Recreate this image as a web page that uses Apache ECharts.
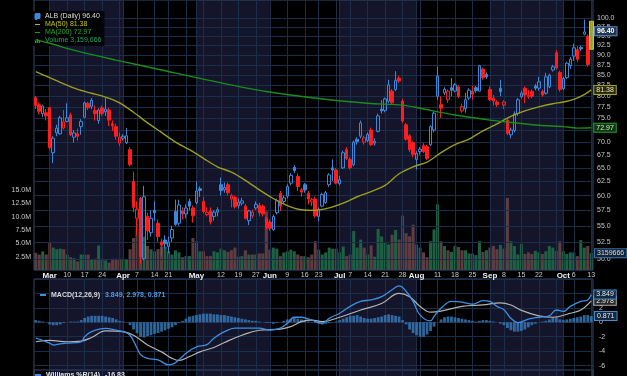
<!DOCTYPE html>
<html>
<head>
<meta charset="utf-8">
<script src="https://cdn.jsdelivr.net/npm/echarts@6/dist/echarts.min.js"></script>
<style>
  html, body { margin: 0; padding: 0; background: #000; }
  #chart { width: 627px; height: 376px; }
</style>
</head>
<body>
<div id="chart"></div>
<script>
// trading days, 2025
const feb = [25, 26, 27, 28];
const mar = [3, 4, 5, 6, 7, 10, 11, 12, 13, 14, 17, 18, 19, 20, 21, 24, 25, 26, 27, 28, 31];
const apr = [1, 2, 3, 4, 7, 8, 9, 10, 11, 14, 15, 16, 17, 21, 22, 23, 24, 25, 28, 29, 30];
const may = [1, 2, 5, 6, 7, 8, 9, 12, 13, 14, 15, 16, 19, 20, 21, 22, 23, 27, 28, 29, 30];
const jun = [2, 3, 4, 5, 6, 9, 10, 11, 12, 13, 16, 17, 18, 20, 23, 24, 25, 26, 27, 30];
const jul = [1, 2, 3, 7, 8, 9, 10, 11, 14, 15, 16, 17, 18, 21, 22, 23, 24, 25, 28, 29, 30, 31];
const aug = [1, 4, 5, 6, 7, 8, 11, 12, 13, 14, 15, 18, 19, 20, 21, 22, 25, 26, 27, 28, 29];
const sep = [2, 3, 4, 5, 8, 9, 10, 11, 12, 15, 16, 17, 18, 19, 22, 23, 24, 25, 26, 29, 30];
const oct = [1, 2, 3, 6, 7, 8, 9, 10, 13];

const monthNames = ['Feb', 'Mar', 'Apr', 'May', 'Jun', 'Jul', 'Aug', 'Sep', 'Oct'];
const hiddenWeekLabels = ['2025-03-31', '2025-04-28', '2025-05-05', '2025-06-30', '2025-08-04', '2025-09-29'];
const shadedMonths = [['2025-03-03', '2025-04-01'], ['2025-05-01', '2025-06-02'],
                      ['2025-07-01', '2025-08-01'], ['2025-09-02', '2025-10-01']];

// [open, close, low, high]
const ohlc = [
  [79.6, 77.8, 77.0, 80.0], [78.0, 76.5, 75.8, 78.5], [76.0, 77.7, 75.3, 78.0], [76.2, 75.5, 74.5, 77.0],
  [77.3, 68.9, 68.5, 77.5], [67.9, 70.8, 65.9, 71.2], [71.9, 72.9, 71.2, 73.6], [71.7, 75.1, 71.5, 75.5],
  [72.9, 74.2, 72.6, 76.8], [74.3, 75.1, 74.1, 78.3], [75.7, 71.5, 71.2, 76.2], [71.0, 71.9, 69.9, 72.5],
  [71.7, 71.2, 70.3, 72.8], [73.2, 74.3, 71.5, 74.8], [75.2, 78.4, 75.0, 78.7], [78.3, 77.3, 76.8, 78.6],
  [77.6, 79.0, 77.0, 79.5], [76.7, 76.0, 74.5, 77.8], [74.5, 76.8, 73.8, 77.2], [77.3, 76.0, 75.5, 77.8],
  [76.4, 77.0, 75.5, 79.5], [76.8, 74.6, 73.3, 77.3], [73.8, 73.4, 72.3, 74.5], [73.2, 71.2, 70.5, 73.8],
  [69.8, 71.0, 69.2, 72.0], [70.8, 71.2, 70.3, 71.6], [69.9, 71.3, 69.6, 72.9], [68.5, 65.6, 65.3, 69.0],
  [62.5, 58.0, 57.2, 64.3], [56.2, 57.7, 53.5, 59.0], [59.5, 50.3, 49.3, 59.8], [50.0, 59.8, 49.8, 61.7],
  [56.5, 54.2, 52.8, 57.1], [53.9, 56.2, 53.3, 57.5], [57.5, 57.1, 55.8, 59.0], [55.4, 53.3, 52.5, 56.0],
  [52.5, 52.0, 50.5, 53.0], [52.8, 52.2, 51.5, 53.5], [51.8, 52.5, 50.8, 53.3], [53.1, 54.4, 52.5, 55.0],
  [57.3, 55.2, 55.0, 59.3], [55.4, 58.4, 55.0, 59.3], [57.4, 56.9, 56.0, 58.0], [56.9, 57.9, 56.2, 58.5],
  [59.0, 58.2, 57.5, 59.5], [57.9, 56.6, 55.5, 58.3], [58.8, 60.8, 58.5, 62.5], [61.2, 60.9, 59.8, 61.6],
  [59.0, 57.3, 57.0, 59.8], [56.8, 57.2, 56.5, 58.0], [57.4, 55.6, 55.2, 58.0], [56.5, 57.2, 55.8, 57.5],
  [57.2, 57.6, 56.5, 58.0], [61.9, 60.9, 60.0, 63.2], [61.0, 61.4, 60.5, 62.3], [61.9, 60.5, 60.0, 62.3],
  [59.4, 60.0, 58.0, 60.3], [59.7, 58.1, 57.8, 60.0], [58.3, 58.9, 57.8, 59.5], [58.7, 59.1, 58.3, 59.6],
  [58.2, 56.2, 56.0, 58.6], [55.8, 57.4, 55.1, 57.6], [56.6, 57.2, 56.2, 57.6], [57.9, 58.5, 57.6, 59.0],
  [58.3, 57.1, 56.5, 58.8], [58.2, 56.9, 56.5, 58.5], [56.2, 54.7, 54.4, 56.4], [55.6, 54.6, 54.2, 56.0],
  [54.4, 56.5, 54.2, 56.8], [57.1, 59.1, 56.8, 59.5], [60.4, 58.2, 57.4, 60.8], [59.0, 59.6, 58.7, 60.0],
  [59.9, 61.6, 59.5, 62.0], [62.2, 63.6, 61.8, 64.0], [65.1, 64.5, 64.0, 65.5], [63.4, 61.6, 60.8, 64.0],
  [61.0, 60.6, 59.8, 61.3], [61.9, 61.0, 60.5, 62.2], [60.4, 59.4, 58.5, 60.8], [58.9, 59.3, 58.2, 59.6],
  [59.4, 56.6, 56.3, 59.8], [56.5, 57.7, 55.7, 58.0], [58.2, 60.2, 58.0, 60.5], [58.8, 60.5, 58.6, 60.8],
  [61.9, 63.7, 61.5, 64.0], [65.0, 64.6, 62.6, 66.6], [64.6, 62.2, 62.0, 65.0], [62.1, 62.8, 61.8, 63.5],
  [65.0, 67.9, 64.8, 68.3], [68.5, 66.8, 66.5, 69.0], [66.6, 65.0, 64.7, 67.0], [65.6, 70.0, 65.3, 70.3],
  [70.6, 70.1, 69.5, 71.0], [71.2, 74.0, 70.8, 74.5], [70.0, 70.9, 69.5, 71.3], [70.3, 71.6, 70.0, 72.0],
  [72.5, 69.5, 69.2, 73.0], [69.8, 70.2, 69.3, 70.8], [72.2, 75.5, 72.0, 76.0], [77.0, 76.6, 76.0, 79.0],
  [76.7, 79.3, 76.3, 79.6], [78.8, 82.6, 78.4, 83.8], [81.1, 78.4, 78.0, 81.6], [81.5, 83.7, 81.1, 85.9],
  [84.2, 83.5, 83.0, 84.8], [78.8, 74.4, 74.0, 79.3], [73.6, 70.6, 70.3, 74.0], [71.3, 68.5, 68.0, 71.6],
  [69.9, 67.6, 67.0, 70.2], [66.6, 67.8, 64.7, 68.2], [68.1, 68.6, 67.5, 69.0], [69.3, 68.1, 67.8, 69.8],
  [69.1, 66.8, 66.5, 69.5], [69.5, 73.2, 69.2, 73.5], [72.5, 76.1, 72.0, 76.5], [79.9, 84.7, 79.1, 87.1],
  [78.0, 77.2, 75.1, 79.9], [80.7, 81.5, 80.2, 82.0], [79.1, 81.1, 78.4, 81.5], [81.9, 81.3, 79.9, 84.2],
  [81.1, 82.6, 80.8, 83.0], [82.1, 79.9, 79.5, 82.5], [76.6, 77.6, 76.2, 78.2], [77.1, 79.1, 76.2, 80.7],
  [79.5, 81.3, 79.0, 81.8], [81.1, 80.4, 79.1, 82.3], [81.9, 81.2, 80.7, 82.3], [81.1, 87.2, 81.0, 87.5],
  [86.4, 84.3, 83.8, 86.8], [85.1, 84.5, 84.0, 85.6], [81.5, 79.1, 78.8, 82.2], [79.5, 78.8, 77.8, 80.2],
  [78.6, 78.0, 77.5, 79.0], [81.8, 81.0, 79.9, 83.8], [77.9, 78.6, 77.0, 79.0], [74.6, 71.8, 71.4, 75.0],
  [71.5, 72.5, 70.8, 73.0], [72.4, 76.0, 72.0, 76.5], [76.0, 79.1, 75.5, 79.5], [79.8, 80.6, 79.4, 81.2],
  [81.8, 80.2, 78.3, 82.2], [79.8, 80.1, 79.3, 81.4], [81.0, 79.9, 79.5, 81.5], [82.3, 81.8, 81.3, 82.8],
  [81.8, 83.3, 81.2, 84.5], [81.0, 80.2, 79.8, 81.5], [80.6, 84.5, 80.3, 85.5], [82.1, 84.9, 81.8, 85.3],
  [86.2, 87.0, 85.8, 87.5], [90.6, 86.7, 86.3, 91.3], [85.6, 81.5, 81.0, 86.0], [81.7, 84.1, 81.3, 84.5],
  [84.3, 87.9, 84.0, 88.3], [87.3, 88.9, 86.5, 89.5], [89.7, 91.9, 88.5, 93.0], [91.4, 88.9, 88.3, 92.3],
  [92.0, 91.6, 91.0, 92.5], [95.6, 96.2, 95.3, 99.7], [95.0, 87.6, 87.0, 95.5], [91.9, 96.4, 91.5, 99.2]
];

// volume, millions of shares
const volumes = [
  3.2, 2.9, 3.5, 2.9, 5.1, 4.2, 3.9, 4.0, 3.9, 2.9, 2.4, 2.2, 1.6, 2.9, 2.9, 2.9, 2.0, 2.1, 4.6, 2.1,
  1.8, 1.4, 2.1, 2.1, 2.1, 2.1, 2.0, 3.9, 6.0, 7.6, 7.0, 6.2, 4.5, 3.9, 3.5, 3.9, 4.4, 4.4, 3.5, 2.9,
  3.7, 3.3, 2.4, 2.6, 2.6, 6.0, 5.4, 3.5, 3.5, 2.6, 2.6, 3.5, 3.3, 4.0, 3.7, 3.4, 3.7, 4.2, 2.5, 2.6,
  3.7, 2.9, 2.9, 2.9, 3.1, 3.1, 11.0, 3.8, 4.2, 4.0, 2.6, 3.3, 3.5, 3.8, 3.5, 2.9, 2.6, 2.6, 2.4, 2.9,
  5.4, 3.8, 2.9, 3.3, 4.2, 4.0, 4.0, 3.3, 4.4, 2.6, 2.9, 7.3, 4.2, 5.7, 4.2, 2.9, 4.6, 2.5, 7.7, 6.3,
  5.1, 4.8, 6.6, 7.5, 5.7, 10.2, 6.9, 6.3, 8.5, 4.8, 4.2, 3.3, 2.4, 5.4, 7.6, 12.3, 5.4, 4.5, 3.7, 3.4,
  4.5, 4.3, 3.7, 3.7, 3.1, 3.1, 2.8, 5.4, 3.4, 3.7, 4.2, 4.5, 3.9, 4.7, 4.0, 13.5, 5.4, 4.5, 2.9, 4.9,
  3.0, 3.3, 3.0, 3.6, 3.3, 3.0, 3.5, 4.5, 4.2, 3.6, 5.4, 3.5, 3.0, 3.3, 3.3, 2.6, 5.6, 4.2, 4.5, 3.159666
];

// moving averages read at [day index, value]
const ma50 = [
  [0, 85.8], [4, 84.3], [8, 82.8], [12, 81.5], [16, 80.6], [20, 79.7], [24, 78.4], [28, 76.3],
  [32, 74.0], [36, 72.0], [40, 70.0], [44, 68.5], [48, 66.8], [52, 65.2], [56, 64.2], [60, 62.7],
  [64, 61.0], [68, 59.5], [72, 58.3], [76, 57.6], [80, 57.5], [84, 57.9], [88, 58.7], [92, 59.8],
  [96, 60.7], [100, 61.8], [104, 63.9], [108, 65.2], [112, 66.1], [116, 67.9], [120, 69.5], [124, 70.6],
  [128, 72.3], [132, 73.8], [136, 75.4], [140, 76.6], [144, 77.5], [148, 78.2], [151, 78.6], [154, 79.2],
  [157, 80.3], [159, 81.38]
];
const ma200 = [
  [0, 94.1], [4, 93.1], [12, 91.0], [23, 88.7], [36, 86.2], [50, 83.6], [66, 81.0], [81, 79.4],
  [95, 78.3], [105, 77.9], [110, 77.2], [120, 75.7], [130, 74.6], [135, 74.2], [144, 73.5], [151, 73.2],
  [155, 72.9], [159, 72.97]
];

// MACD(12,26,9)
const macdLine = [
  [0, -2.2], [2, -2.5], [4, -2.9], [5, -3.15], [7, -3.0], [9, -2.9], [13, -2.7], [14, -2.0],
  [16, -1.3], [20, -0.85], [23, -1.1], [25, -1.3], [27, -1.8], [29, -3.6], [30, -4.5], [32, -5.0],
  [35, -5.2], [38, -5.9], [39, -5.85], [41, -5.2], [43, -4.3], [46, -3.4], [49, -3.1], [51, -2.2],
  [54, -1.3], [57, -0.8], [61, -0.8], [64, -0.8], [67, -1.07], [70, -0.8], [72, -0.15], [74, 0.7],
  [76, 0.7], [79, 0.3], [82, -0.15], [84, 0.55], [87, 1.25], [90, 2.2], [93, 2.9], [96, 3.1],
  [99, 3.55], [102, 4.5], [104, 5.05], [106, 4.3], [108, 2.9], [110, 1.0], [113, 0.2], [114, 0.8],
  [116, 1.95], [119, 2.9], [122, 2.8], [125, 2.5], [128, 3.0], [130, 2.9], [132, 2.2], [134, 1.75],
  [136, 0.55], [138, -0.05], [141, 0.45], [144, 0.7], [147, 0.9], [149, 1.7], [151, 1.5], [153, 2.2],
  [156, 2.9], [158, 3.1], [159, 3.849]
];
const signalLine = [
  [0, -2.7], [4, -2.5], [9, -2.7], [13, -2.6], [16, -2.1], [20, -1.2], [25, -1.3], [28, -1.8],
  [32, -3.15], [36, -4.1], [39, -5.0], [41, -5.3], [44, -4.75], [47, -4.1], [51, -3.5], [54, -2.8],
  [59, -1.8], [64, -1.1], [70, -0.95], [73, -0.6], [76, 0.1], [79, 0.3], [82, 0.1], [87, 0.7],
  [93, 1.7], [99, 2.6], [104, 4.0], [107, 3.55], [110, 2.2], [113, 1.4], [116, 1.55], [122, 2.2],
  [128, 2.4], [133, 2.7], [136, 2.4], [139, 1.65], [144, 0.9], [148, 0.7], [153, 1.25], [156, 1.7],
  [159, 2.978]
];
const macdHist = [
  0.3, 0.2, 0.1, 0, -0.3, -0.4, -0.4, -0.3, -0.1, 0, 0.1, 0.1, 0.1, 0.3, 0.6, 0.8, 0.9, 0.9,
  0.9, 0.9, 0.8, 0.7, 0.6, 0.4, 0.2, 0.1, 0, -0.4, -1.0, -1.5, -2.0, -2.1, -1.9, -1.8, -1.6, -1.5,
  -1.3, -1.1, -0.9, -0.7, -0.4, -0.1, 0.2, 0.5, 0.8, 0.9, 1.0, 1.1, 1.2, 1.2, 1.2, 1.1, 1.1,
  1.0, 1.0, 0.9, 0.8, 0.7, 0.6, 0.5, 0.4, 0.3, 0.2, 0.2, 0.1, 0, -0.1, -0.1, -0.2, -0.1, 0,
  0.2, 0.4, 0.5, 0.6, 0.5, 0.4, 0.2, 0.1, 0, -0.1, -0.2, -0.3, -0.2, -0.1, 0, 0.1,
  0.3, 0.5, 0.7, 0.9, 0.9, 1.0, 0.8, 0.6, 0.5, 0.5, 0.6, 0.7, 0.8, 1.0, 1.1, 1.0, 0.9, 0.8,
  0.3, -0.3, -1.0, -1.5, -1.8, -2.0, -2.0, -1.7, -1.2, -0.6, 0, 0.4, 0.7, 0.8, 0.8, 0.7,
  0.6, 0.5, 0.4, 0.3, 0.2, 0.1, 0.2, 0.3, 0.3, 0.2, 0.1, 0, -0.2, -0.4, -0.8,
  -1.1, -1.3, -1.3, -1.2, -1.0, -0.7, -0.4, -0.2, 0, 0.1, 0.2, 0.4, 0.7, 0.7, 0.4,
  0.3, 0.4, 0.5, 0.6, 0.7, 0.8, 1.0, 1.0, 0.871
];
const williamsLast = -16.83;

const priceTicks = [50, 52.5, 55, 57.5, 60, 62.5, 65, 67.5, 70, 72.5, 75, 77.5, 80, 82.5, 85, 87.5, 90, 92.5, 95, 97.5, 100];

// ---------- build ----------
const dates = [];
const monthStartIdx = new Set();
[feb, mar, apr, may, jun, jul, aug, sep, oct].forEach((days, m) => {
  days.forEach((d, k) => {
    if (k === 0 && m > 0) monthStartIdx.add(dates.length);
    dates.push('2025-' + String(m + 2).padStart(2, '0') + '-' + String(d).padStart(2, '0'));
  });
});
const weekStartIdx = new Set();
dates.forEach((s, i) => {
  if (i === 0) return;
  const dow = new Date(s + 'T12:00:00Z').getUTCDay();
  const prev = new Date(dates[i - 1] + 'T12:00:00Z').getUTCDay();
  if (dow < prev) weekStartIdx.add(i);
});
const gridIdx = new Set([...weekStartIdx, ...monthStartIdx]);
const labelIdx = new Set([...gridIdx].filter(i => !hiddenWeekLabels.includes(dates[i])));

const font = 'Liberation Sans, Arial, sans-serif';
const upBlue = '#3b88da', downRed = '#ff1e1e';
const gridLine = '#1a2e4a', paneBorder = '#2e4a6c', shade = '#14142b';
const volUp = '#1d6043', volDown = '#5e3d40';

const isUp = i => ohlc[i][1] >= (i > 0 ? ohlc[i - 1][1] : ohlc[i][0]);
const candleData = ohlc.map((d, i) => {
  const c = isUp(i) ? upBlue : downRed;
  const fill = d[1] > d[0] ? 'transparent' : c;
  return { value: d, itemStyle: { color: fill, color0: fill, borderColor: c, borderColor0: c } };
});
const volumeData = volumes.map((v, i) => ({ value: v, itemStyle: { color: isUp(i) ? volUp : volDown } }));
const last = ohlc.length - 1;
const highlight = ohlc.map((d, i) => i === last ? [d[2], d[3], d[2], d[3]] : '-');
const closes = ohlc.map(d => d[1]);
const lastClose = closes[last];
const lastVol = volumes[last];
const ma50Last = ma50[ma50.length - 1][1];
const ma200Last = ma200[ma200.length - 1][1];
const macdLast = macdLine[macdLine.length - 1][1];
const signalLast = signalLine[signalLine.length - 1][1];
const histLast = macdHist[macdHist.length - 1];

const shadeAreas = shadedMonths.map(([a, b]) => [{ xAxis: a }, { xAxis: b }]);
const boxLabel = (text, bg, border, color, bold) => ({
  show: true, formatter: () => text, color: color, backgroundColor: bg, borderColor: border,
  borderWidth: 1, padding: [1, 2, 0, 2], fontSize: 7, fontFamily: font,
  fontWeight: bold ? 'bold' : 'normal', distance: 3, opacity: 1
});
const valueTag = (value, text, bg, border, color, bold) => ({
  silent: true, symbol: ['none', 'none'], z: 10,
  lineStyle: { color: 'rgba(0,0,0,0)', width: 1, type: 'solid' },
  label: Object.assign(boxLabel(text, bg, border, color, bold), { position: 'end', distance: 2 }),
  data: [{ yAxis: value }]
});

const catAxis = (gridIndex, labels) => ({
  type: 'category', gridIndex, data: dates, boundaryGap: true,
  axisLine: { show: false }, axisTick: { show: false },
  axisLabel: labels ? {
    show: true, interval: (i) => labelIdx.has(i), margin: 2,
    formatter: (v) => {
      const idx = dates.indexOf(v);
      if (monthStartIdx.has(idx)) return '{m|' + monthNames[+v.slice(5, 7) - 2] + '}';
      return '{d|' + (+v.slice(8)) + '}';
    },
    rich: {
      m: { color: '#f0f0f0', fontWeight: 'bold', fontSize: 8, fontFamily: font },
      d: { color: '#c8c8c8', fontSize: 7, fontFamily: font }
    }
  } : { show: false },
  splitLine: { show: true, interval: (i) => gridIdx.has(i), alignWithLabel: true,
               lineStyle: { color: gridLine, width: 1 } }
});

const legendIcons = {
  candle: 'path://M0,0M10,10M1,2h3v6h-3zM2.2,0h0.6v10h-0.6zM6,1h3v5h-3zM7.2,0h0.6v8h-0.6z',
  line: 'path://M0,0M10,10M0,4h10v2h-10z',
  bars: 'path://M0,0M10,10M0,5h2.5v5h-2.5zM3.7,2h2.5v8h-2.5zM7.5,4h2.5v6h-2.5z'
};
const legendValues = {
  'ALB (Daily)': lastClose.toFixed(2),
  'MA(50)': ma50Last.toFixed(2),
  'MA(200)': ma200Last.toFixed(2),
  'Volume': Math.round(lastVol * 1e6).toLocaleString('en-US')
};

const option = {
  backgroundColor: '#000',
  animation: false,
  grid: [
    { left: 34, right: 34, top: 0, height: 270, show: true, borderColor: paneBorder, borderWidth: 1, outerBoundsMode: 'none' },
    { left: 34, right: 34, top: 279, height: 101, show: true, borderColor: paneBorder, borderWidth: 1, outerBoundsMode: 'none' },
    { left: 34, right: 34, top: 370, height: 30, show: true, borderColor: paneBorder, borderWidth: 1, outerBoundsMode: 'none' }
  ],
  title: [
    {
      left: 35, top: 281, z: 20,
      text: '{i| } {n|MACD(12,26,9)} {v|' + macdLast.toFixed(3) + ', ' + signalLast.toFixed(3) + ', ' + histLast.toFixed(3) + '}',
      textStyle: { rich: {
        i: { width: 6, height: 2, backgroundColor: '#3b8fe0' },
        n: { color: '#d8d8d8', fontSize: 7, fontFamily: font },
        v: { color: '#4a9ae8', fontSize: 7, fontFamily: font }
      } }
    },
    {
      left: 35, top: 366, z: 20, padding: [0, 0, 0, 0],
      text: '{i| } {n|Williams %R(14)} {v|' + williamsLast.toFixed(2) + '}',
      textStyle: { rich: {
        i: { width: 6, height: 2, backgroundColor: '#3b8fe0' },
        n: { color: '#e0e0e0', fontSize: 7, fontFamily: font },
        v: { color: '#e0e0e0', fontSize: 7, fontFamily: font }
      } }
    }
  ],
  legend: {
    orient: 'vertical', left: 33, top: 11, itemGap: 1, itemWidth: 5, itemHeight: 7,
    padding: [2, 3, 2, 1], backgroundColor: 'rgba(0,0,0,0.85)',
    selectedMode: false,
    formatter: name => name + ' ' + legendValues[name],
    textStyle: { fontSize: 7, fontFamily: font, lineHeight: 7 },
    data: [
      { name: 'ALB (Daily)', icon: legendIcons.candle, itemStyle: { color: upBlue }, textStyle: { color: '#dcdcdc' } },
      { name: 'MA(50)', icon: legendIcons.line, itemStyle: { color: '#b4b424' }, textStyle: { color: '#c2c22c' } },
      { name: 'MA(200)', icon: legendIcons.line, itemStyle: { color: '#1f9a1f' }, textStyle: { color: '#24a824' } },
      { name: 'Volume', icon: legendIcons.bars, itemStyle: { color: '#2a9a5c' }, textStyle: { color: '#2aa060' } }
    ]
  },
  xAxis: [catAxis(0, true), catAxis(1, false), catAxis(2, false)],
  yAxis: [
    {
      type: 'log', logBase: 10, gridIndex: 0, position: 'right', min: 48.41, max: 105.48,
      axisLine: { show: false }, axisTick: { show: false, customValues: priceTicks },
      axisLabel: { customValues: priceTicks, formatter: v => v.toFixed(1), color: '#c8c8c8', fontSize: 7, fontFamily: font, margin: 4 },
      splitLine: { show: true, lineStyle: { color: gridLine } }
    },
    {
      type: 'value', gridIndex: 0, position: 'left', min: 0, max: 50.6, interval: 2.5,
      axisLine: { show: false }, axisTick: { show: false }, splitLine: { show: false },
      axisLabel: { formatter: v => (v > 0 && v <= 15) ? v.toFixed(1) + 'M' : '', color: '#c8c8c8', fontSize: 7, fontFamily: font, margin: 3 }
    },
    {
      type: 'value', gridIndex: 1, position: 'right', min: -8, max: 6, interval: 2,
      axisLine: { show: false }, axisTick: { show: false },
      axisLabel: { formatter: v => (v >= -6 && v <= 4) ? String(v) : '', color: '#c8c8c8', fontSize: 7, fontFamily: font, margin: 6 },
      splitLine: { show: true, lineStyle: { color: gridLine } }
    },
    {
      type: 'value', gridIndex: 2, min: -100, max: 0, show: false, splitLine: { show: false }
    }
  ],
  series: [
    {
      name: 'shadePrice', type: 'line', xAxisIndex: 0, yAxisIndex: 0, data: closes, z: -3,
      silent: true, symbol: 'none', lineStyle: { opacity: 0 },
      markArea: { silent: true, z: -3, itemStyle: { color: shade }, data: shadeAreas }
    },
    {
      name: 'shadeMacd', type: 'line', xAxisIndex: 1, yAxisIndex: 2, data: macdHist, z: -3,
      silent: true, symbol: 'none', lineStyle: { opacity: 0 },
      markArea: { silent: true, z: -3, itemStyle: { color: shade }, data: shadeAreas }
    },
    {
      name: 'Volume', type: 'bar', xAxisIndex: 0, yAxisIndex: 1, data: volumeData, z: -1,
      barCategoryGap: '12%', silent: true, itemStyle: { color: volUp },
      markLine: valueTag(lastVol, String(Math.round(lastVol * 1e6)), '#14253a', '#3d6d9e', '#d4dce6')
    },
    {
      name: 'ALB (Daily)', type: 'candlestick', xAxisIndex: 0, yAxisIndex: 0, data: candleData,
      barWidth: 3, z: 3, silent: true,
      itemStyle: { color: upBlue, color0: downRed, borderColor: upBlue, borderColor0: downRed, borderWidth: 1 },
      markLine: valueTag(lastClose, lastClose.toFixed(2), '#233650', '#5a8ac4', '#ffffff', true)
    },
    {
      name: 'Today', type: 'candlestick', xAxisIndex: 0, yAxisIndex: 0, data: highlight,
      barWidth: 5, z: 4, silent: true,
      itemStyle: { color: 'rgba(176,176,36,0.85)', color0: 'rgba(176,176,36,0.85)', borderColor: '#c8c83a', borderColor0: '#c8c83a', borderWidth: 1 }
    },
    {
      name: 'MA(50)', type: 'line', xAxisIndex: 0, yAxisIndex: 0, data: ma50, smooth: 0.3,
      symbol: 'none', z: 5, silent: true, lineStyle: { color: '#9d9d1e', width: 1.4 },
      itemStyle: { color: '#9d9d1e' },
      endLabel: boxLabel(ma50Last.toFixed(2), '#2b2b0a', '#a8a82c', '#e8e8d0')
    },
    {
      name: 'MA(200)', type: 'line', xAxisIndex: 0, yAxisIndex: 0, data: ma200, smooth: 0.3,
      symbol: 'none', z: 5, silent: true, lineStyle: { color: '#1b8c1b', width: 1.4 },
      itemStyle: { color: '#1b8c1b' },
      endLabel: boxLabel(ma200Last.toFixed(2), '#0c360c', '#2a9a2a', '#d8e8d8')
    },
    {
      name: 'Histogram', type: 'bar', xAxisIndex: 1, yAxisIndex: 2, data: macdHist, z: 1,
      barCategoryGap: '20%', silent: true, itemStyle: { color: 'rgba(58,125,190,0.8)' },
      markLine: valueTag(histLast, histLast.toFixed(3), '#14283e', '#4a8ac4', '#dde6f0')
    },
    {
      name: 'Signal', type: 'line', xAxisIndex: 1, yAxisIndex: 2, data: signalLine, smooth: 0.4,
      symbol: 'none', z: 2, silent: true, lineStyle: { color: '#b4b4b4', width: 1.2 },
      itemStyle: { color: '#b4b4b4' },
      endLabel: boxLabel(signalLast.toFixed(3), '#2a2a2a', '#b4b4b4', '#e8e8e8')
    },
    {
      name: 'MACD', type: 'line', xAxisIndex: 1, yAxisIndex: 2, data: macdLine, smooth: 0.4,
      symbol: 'none', z: 3, silent: true, lineStyle: { color: '#3d8fe2', width: 1.3 },
      itemStyle: { color: '#3d8fe2' },
      endLabel: boxLabel(macdLast.toFixed(3), '#14283e', '#4a8ac4', '#dde6f0')
    }
  ]
};

const chart = echarts.init(document.getElementById('chart'));
chart.setOption(option);
window.addEventListener('resize', () => chart.resize());
</script>
</body>
</html>
